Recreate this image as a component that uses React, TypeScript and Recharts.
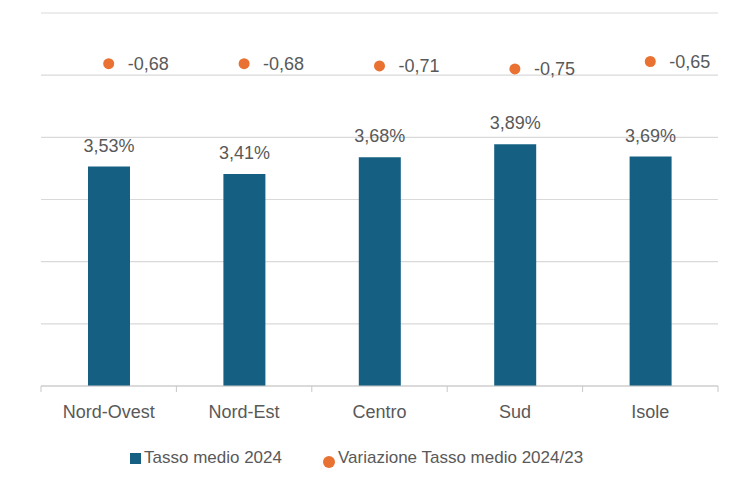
import React from 'react';
import { ComposedChart, Bar, Line, XAxis, YAxis, CartesianGrid, LabelList } from 'recharts';

const categories = ['Nord-Ovest', 'Nord-Est', 'Centro', 'Sud', 'Isole'];
const tasso2024 = [3.53, 3.41, 3.68, 3.89, 3.69];
const variazione = [-0.68, -0.68, -0.71, -0.75, -0.65];
const primaryTicks = [0, 1, 2, 3, 4, 5, 6];
const primaryDomain = [0, 6];
const secondaryDomain = [-5, 0];

const data = categories.map((c, i) => ({ name: c, tasso: tasso2024[i], variazione: variazione[i] }));

const W = 756;
const H = 480;
const MARGIN = { top: 13, right: 38, left: 41, bottom: 34 };
const BAND = (W - MARGIN.left - MARGIN.right) / categories.length;
const TEXT = '#595959';
const BLUE = '#156082';
const ORANGE = '#E97132';
const FONT = '"Liberation Sans", Arial, sans-serif';

const comma = (v: number) => v.toFixed(2).replace('.', ',');
const pct = (v: number) => comma(v) + '%';

const gridY = (args: any) => {
  const { yAxis, offset } = args || {};
  if (yAxis && typeof yAxis.scale === 'function') {
    return primaryTicks.map((t) => yAxis.scale(t));
  }
  const span = primaryDomain[1] - primaryDomain[0];
  return primaryTicks.map((t) => offset.top + offset.height * (1 - (t - primaryDomain[0]) / span));
};

const CatTick = (props: any) => {
  const { x, y, payload, index } = props;
  const last = index === categories.length - 1;
  return (
    <g>
      <line x1={x - BAND / 2} y1={y} x2={x - BAND / 2} y2={y + 6} stroke="#c8c8c8" strokeWidth={1} />
      {last && <line x1={x + BAND / 2} y1={y} x2={x + BAND / 2} y2={y + 6} stroke="#c8c8c8" strokeWidth={1} />}
      <text x={x} y={y + 32} textAnchor="middle" fill={TEXT} fontSize={18} fontFamily={FONT}>
        {payload.value}
      </text>
    </g>
  );
};

export default function App() {
  return (
    <div style={{ position: 'absolute', left: 0, top: 0, width: W, height: H, background: '#fff', fontFamily: FONT }}>
      <ComposedChart width={W} height={H} data={data} margin={MARGIN} style={{ fontFamily: FONT }}>
        <CartesianGrid
          vertical={false}
          yAxisId="left"
          stroke="#d9d9d9"
          strokeWidth={1.2}
          horizontalCoordinatesGenerator={gridY}
        />
        <XAxis
          dataKey="name"
          height={60}
          tickLine={false}
          tickSize={0}
          tickMargin={0}
          axisLine={{ stroke: '#c8c8c8', strokeWidth: 1.2 }}
          tick={<CatTick />}
          interval={0}
        />
        <YAxis yAxisId="left" domain={primaryDomain} ticks={primaryTicks} width={0} tick={false} axisLine={false} tickLine={false} />
        <YAxis yAxisId="right" orientation="right" domain={secondaryDomain} hide />
        <Bar yAxisId="left" dataKey="tasso" fill={BLUE} barSize={42} isAnimationActive={false}>
          <LabelList dataKey="tasso" position="top" offset={15} formatter={pct} fill={TEXT} fontSize={18} fontFamily={FONT} />
        </Bar>
        <Line
          yAxisId="right"
          dataKey="variazione"
          stroke="none"
          strokeWidth={0}
          dot={{ r: 5.5, fill: ORANGE, stroke: 'none' }}
          activeDot={false}
          isAnimationActive={false}
        >
          <LabelList dataKey="variazione" position="right" offset={19} formatter={comma} fill={TEXT} fontSize={18} fontFamily={FONT} />
        </Line>
      </ComposedChart>
      <div
        style={{
          position: 'absolute',
          top: 447,
          left: 0,
          width: W,
          height: 24,
          fontSize: 17,
          color: TEXT,
          fontFamily: FONT,
        }}
      >
        <div style={{ position: 'absolute', left: 130, top: 6, width: 11, height: 11, background: BLUE }} />
        <div style={{ position: 'absolute', left: 144, top: 1, whiteSpace: 'nowrap' }}>Tasso medio 2024</div>
        <div style={{ position: 'absolute', left: 323, top: 9, width: 12, height: 12, borderRadius: 6, background: ORANGE }} />
        <div style={{ position: 'absolute', left: 338, top: 1, whiteSpace: 'nowrap' }}>Variazione Tasso medio 2024/23</div>
      </div>
    </div>
  );
}
